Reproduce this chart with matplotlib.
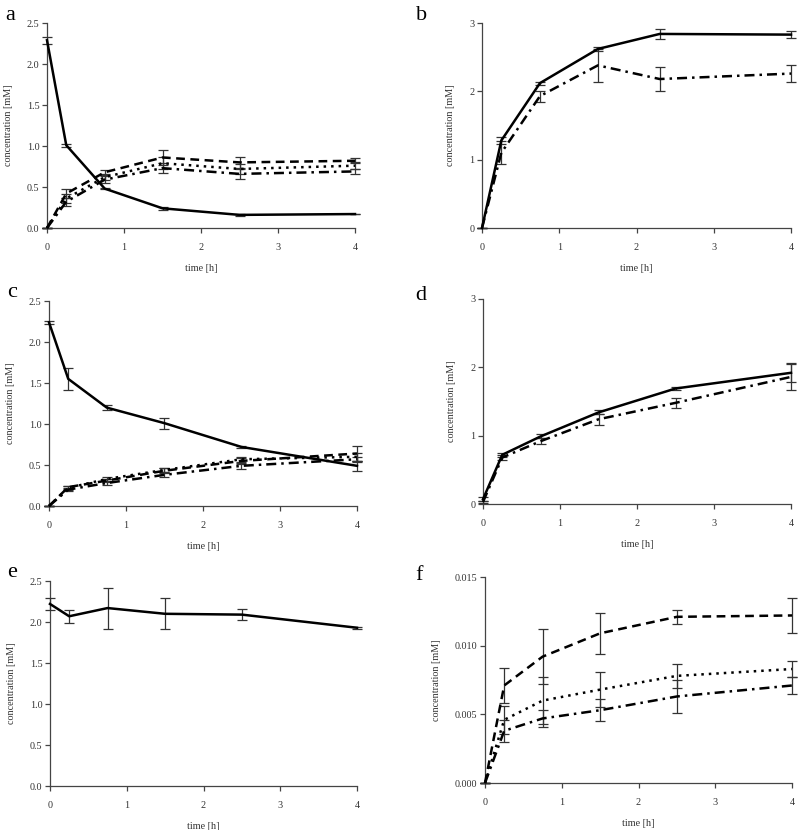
import numpy as np
import matplotlib
matplotlib.use("Agg")
import matplotlib.pyplot as plt

plt.rcParams["font.family"] = ["Liberation Serif", "DejaVu Serif"]

# ==== data ====
t = [0, 0.25, 0.75, 1.5, 2.5, 4]
t_b = [0, 0.25, 0.75, 1.5, 2.3, 4]

# panel a
a_solid = [2.29, 1.01, 0.48, 0.24, 0.16, 0.17]
a_solid_err = [0.04, 0.02, 0.01, 0.02, 0.01, 0.0]
a_dash = [0.0, 0.42, 0.68, 0.86, 0.80, 0.82]
a_dash_err = [0, 0.05, 0.03, 0.09, 0.07, 0.03]
a_dot = [0.0, 0.36, 0.62, 0.79, 0.72, 0.76]
a_dot_err = [0, 0.06, 0.04, 0.07, 0.06, 0.04]
a_dd = [0.0, 0.32, 0.59, 0.73, 0.66, 0.69]
a_dd_err = [0, 0.05, 0.04, 0.06, 0.06, 0.03]

# panel b
b_solid = [0.0, 1.28, 2.12, 2.62, 2.84, 2.83]
b_solid_err = [0, 0.05, 0.02, 0.03, 0.07, 0.05]
b_dd = [0.0, 1.10, 1.93, 2.38, 2.18, 2.26]
b_dd_err = [0, 0.17, 0.08, 0.24, 0.18, 0.12]

# panel c
c_solid = [2.24, 1.55, 1.20, 1.01, 0.72, 0.49]
c_solid_err = [0.02, 0.13, 0.03, 0.065, 0.015, 0.06]
c_dash = [0.0, 0.23, 0.31, 0.43, 0.55, 0.64]
c_dash_err = [0, 0.02, 0.02, 0.03, 0.04, 0.09]
c_dot = [0.0, 0.22, 0.33, 0.44, 0.57, 0.60]
c_dot_err = [0, 0.02, 0.02, 0.02, 0.03, 0.05]
c_dd = [0.0, 0.20, 0.28, 0.38, 0.49, 0.57]
c_dd_err = [0, 0.02, 0.02, 0.03, 0.04, 0.03]

# panel d
d_solid = [0.07, 0.72, 0.99, 1.34, 1.69, 1.92]
d_solid_err = [0.03, 0.03, 0.03, 0.03, 0.02, 0.14]
d_dd = [0.03, 0.68, 0.92, 1.24, 1.48, 1.86]
d_dd_err = [0.02, 0.04, 0.04, 0.08, 0.07, 0.19]

# panel e
e_solid = [2.22, 2.07, 2.17, 2.10, 2.09, 1.93]
e_solid_err = [0.075, 0.08, 0.25, 0.19, 0.07, 0.01]

# panel f
f_dash = [0.0, 0.0071, 0.0092, 0.0109, 0.0121, 0.0122]
f_dash_err = [0, 0.0013, 0.0020, 0.0015, 0.0005, 0.00125]
f_dot = [0.0, 0.0046, 0.0060, 0.0068, 0.0078, 0.0083]
f_dot_err = [0, 0.0010, 0.0017, 0.0013, 0.0009, 0.0006]
f_dd = [0.0, 0.0038, 0.0047, 0.0053, 0.0063, 0.0071]
f_dd_err = [0, 0.0008, 0.0006, 0.0008, 0.0012, 0.0006]

W, H = 798, 830
fig = plt.figure(figsize=(W / 100, H / 100), dpi=100)

DASH = (0, (3.5, 2.2))
DOT = (0, (1, 2))
DASHDOT = (0, (4, 2, 1, 2))


def axes_px(l, r, top, bot):
    return fig.add_axes([l / W, 1 - bot / H, (r - l) / W, (bot - top) / H])


def series(ax, x, y, err, ls):
    ax.errorbar(x, y, yerr=err, color="black", ls=ls, lw=1.8,
                ecolor="#333333", elinewidth=0.9, capsize=3.3, capthick=0.9,
                clip_on=False, zorder=3)


def style(ax, ymax, yticks, fmt, letter, lx, ly):
    ax.set_xlim(0, 4)
    ax.set_ylim(0, ymax)
    ax.set_xticks([0, 1, 2, 3, 4])
    ax.set_yticks(yticks)
    ax.set_yticklabels([fmt.format(v) for v in yticks])
    for s in ["top", "right"]:
        ax.spines[s].set_visible(False)
    for s in ["left", "bottom"]:
        ax.spines[s].set_color("#444444")
        ax.spines[s].set_linewidth(0.9)
    ax.tick_params(direction="out", length=3.5, width=0.9, color="#444444",
                   labelsize=7.3, labelcolor="#333333", pad=2)
    ax.tick_params(axis="x", pad=7)
    ax.set_xlabel("time [h]", fontsize=7.3, color="#333333", labelpad=9)
    ax.set_ylabel("concentration [mM]", fontsize=7.3, color="#333333", labelpad=10)
    fig.text(lx / W, 1 - ly / H, letter, fontsize=16, ha="left", va="baseline")


ax = axes_px(47, 355, 23, 228)
series(ax, t, a_solid, a_solid_err, "-")
series(ax, t, a_dash, a_dash_err, DASH)
series(ax, t, a_dot, a_dot_err, DOT)
series(ax, t, a_dd, a_dd_err, DASHDOT)
style(ax, 2.5, [0, 0.5, 1, 1.5, 2, 2.5], "{:.1f}", "a", 5, 20)

ax = axes_px(482, 791, 23, 228)
series(ax, t_b, b_solid, b_solid_err, "-")
series(ax, t_b, b_dd, b_dd_err, DASHDOT)
style(ax, 3, [0, 1, 2, 3], "{:.0f}", "b", 416, 20)

ax = axes_px(49, 357, 301, 506)
series(ax, t, c_solid, c_solid_err, "-")
series(ax, t, c_dash, c_dash_err, DASH)
series(ax, t, c_dot, c_dot_err, DOT)
series(ax, t, c_dd, c_dd_err, DASHDOT)
style(ax, 2.5, [0, 0.5, 1, 1.5, 2, 2.5], "{:.1f}", "c", 7, 297)

ax = axes_px(483, 791, 299, 504)
series(ax, t, d_solid, d_solid_err, "-")
series(ax, t, d_dd, d_dd_err, DASHDOT)
style(ax, 3, [0, 1, 2, 3], "{:.0f}", "d", 415, 300)

ax = axes_px(50, 357, 581, 786)
series(ax, t, e_solid, e_solid_err, "-")
style(ax, 2.5, [0, 0.5, 1, 1.5, 2, 2.5], "{:.1f}", "e", 7, 577)

ax = axes_px(485, 792, 577, 783)
series(ax, t, f_dash, f_dash_err, DASH)
series(ax, t, f_dot, f_dot_err, DOT)
series(ax, t, f_dd, f_dd_err, DASHDOT)
style(ax, 0.015, [0, 0.005, 0.010, 0.015], "{:.3f}", "f", 415, 580)

fig.savefig("out.png", dpi=100, facecolor="white")
